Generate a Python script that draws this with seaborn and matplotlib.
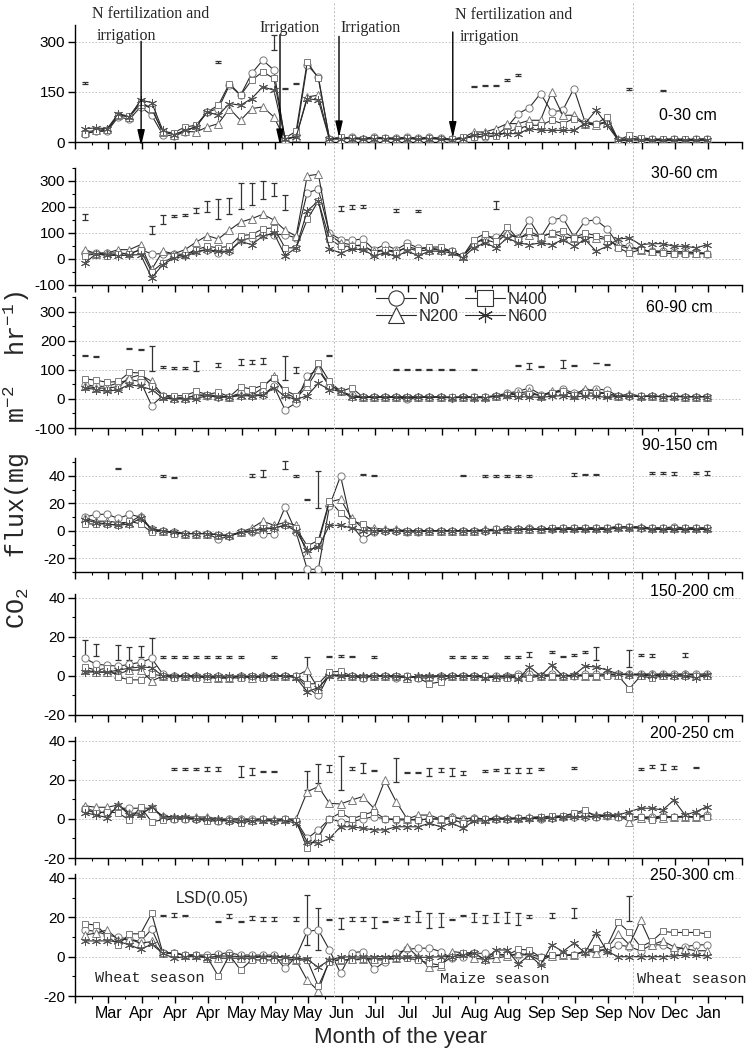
import numpy as np
import seaborn as sns
import matplotlib.pyplot as plt
from matplotlib.lines import Line2D
from matplotlib.ticker import FixedLocator, MultipleLocator

W, H = 753, 1055

# sample index (weekly-ish sampling dates, evenly spaced on the axis)
SAMPLES = np.arange(57)
MONTHS = ['Mar', 'Apr', 'Apr', 'Apr', 'May', 'May', 'May', 'Jun', 'Jul', 'Jul',
          'Jul', 'Aug', 'Aug', 'Sep', 'Sep', 'Sep', 'Nov', 'Dec', 'Jan']
TREATMENTS = ['N0', 'N200', 'N400', 'N600']
DEPTHS = ['0-30 cm', '30-60 cm', '60-90 cm', '90-150 cm',
          '150-200 cm', '200-250 cm', '250-300 cm']

# ---- 0-30 cm
P1_N0 = [25, 32, 32, 75, 68, 105, 80, 22, 18, 30, 48, 90, 100, 170, 140, 205, 245, 215, 5, 20,
         230, 195, 10, 12, 14, 10, 15, 12, 12, 14, 12, 14, 12, 8, 12, 15, 15, 20, 45, 85,
         103, 145, 90, 95, 160, 60, 55, 60, 5, 8, 10, 8, 7, 8, 6, 8, 8]
P1_N200 = [30, 35, 38, 80, 75, 115, 100, 30, 22, 32, 30, 45, 55, 100, 65, 100, 105, 75, 8, 15,
           135, 140, 8, 10, 12, 10, 12, 10, 10, 12, 10, 12, 10, 8, 12, 30, 30, 40, 55, 55,
           65, 65, 150, 80, 80, 55, 50, 60, 8, 10, 8, 6, 6, 7, 6, 7, 6]
P1_N400 = [25, 32, 35, 82, 78, 120, 100, 30, 28, 45, 50, 90, 110, 175, 140, 185, 210, 190, 12, 32,
           240, 190, 10, 14, 12, 10, 12, 12, 10, 12, 10, 12, 10, 8, 15, 15, 17, 17, 30, 40,
           50, 50, 65, 55, 70, 55, 55, 75, 6, 20, 12, 10, 8, 10, 8, 9, 10]
P1_N600 = [40, 42, 40, 85, 75, 125, 118, 35, 22, 35, 45, 90, 80, 115, 110, 130, 165, 155, 10, 15,
           130, 125, 8, 10, 10, 8, 10, 10, 8, 10, 8, 10, 8, 6, 10, 20, 25, 25, 25, 25,
           40, 35, 35, 35, 35, 55, 95, 50, 5, 5, 6, 5, 5, 5, 5, 5, 5]
P1_LSD_X = [0, 12, 17, 18, 19, 35, 36, 37, 38, 39, 49, 52]
P1_LSD_MID = [177, 238, 298, 160, 175, 167, 170, 170, 185, 200, 160, 155]
P1_LSD_HALF = [3, 3, 22, 1, 1, 2, 2, 2, 3, 2, 3, 1]

# ---- 30-60 cm
P2_N0 = [23, 23, 23, 23, 20, 36, 20, 20, 20, 17, 30, 36, 23, 30, 72, 81, 94, 94, 94, 81,
         255, 268, 100, 75, 72, 77, 36, 55, 36, 60, 43, 43, 36, 30, 10, 55, 85, 85, 94, 81,
         150, 81, 150, 159, 85, 146, 150, 116, 55, 49, 36, 30, 30, 28, 28, 25, 20]
P2_N200 = [36, 20, 23, 36, 36, 55, -40, 30, 20, 36, 65, 90, 77, 111, 142, 155, 172, 150, 111, 88,
           320, 326, 94, 62, 55, 49, 30, 36, 30, 43, 30, 36, 36, 30, 10, 62, 75, 62, 100, 81,
           94, 85, 100, 85, 81, 85, 81, 75, 49, 43, 36, 30, 30, 28, 26, 25, 22]
P2_N400 = [13, 20, 13, 20, 20, 36, -50, -15, 10, 17, 36, 49, 43, 49, 90, 94, 116, 120, 43, 43,
           152, 223, 77, 49, 49, 55, 23, 36, 23, 49, 36, 46, 46, 30, 10, 75, 98, 68, 124, 75,
           107, 85, 100, 107, 81, 100, 90, 81, 43, 23, 36, 26, 23, 20, 20, 20, 20]
P2_N600 = [-15, 20, 15, 13, 15, 17, -72, -22, 4, 10, 26, 36, 30, 30, 68, 55, 88, 100, 13, 43,
           185, 223, 39, 23, 39, 36, 13, 23, 10, 30, 13, 30, 30, 23, 5, 43, 62, 43, 81, 62,
           55, 62, 55, 75, 49, 75, 30, 49, 77, 81, 55, 59, 59, 49, 49, 43, 55]
P2_LSD_X = [0, 6, 7, 8, 9, 10, 11, 12, 13, 14, 15, 16, 17, 18, 23, 24, 25, 28, 30, 37]
P2_LSD_MID = [163, 111, 151, 165, 169, 187, 202, 191, 204, 243, 249, 266, 267, 217, 195, 199, 203, 185, 185, 207]
P2_LSD_HALF = [12, 16, 17, 3, 3, 11, 21, 39, 32, 49, 43, 35, 25, 30, 10, 8, 5, 6, 3, 16]

# ---- 60-90 cm
P3_N0 = [49, 43, 43, 55, 66, 60, -23, 11, 3, 3, 12, 10, 8, 7, 20, 14, 14, 43, -37, -14,
         80, 100, 43, 26, 12, 7, 7, 7, 6, -2, 6, 6, 6, 4, 6, 7, 6, 11, 20, 26,
         38, 15, 20, 34, 20, 26, 34, 30, 9, 9, 9, 9, 8, 9, 8, 8, 8]
P3_N200 = [43, 38, 36, 43, 72, 83, 60, 11, 3, 3, 12, 15, 10, 7, 14, 12, 38, 80, 20, 3,
           43, 103, 49, 26, 10, 7, 7, 7, 7, 7, 6, 6, 6, 5, 6, 7, 6, 9, 18, 20,
           26, 10, 26, 26, 15, 34, 26, 18, 9, 18, 9, 10, 8, 9, 8, 8, 8]
P3_N400 = [69, 64, 57, 60, 91, 89, 43, 11, 11, 11, 26, 15, 23, 7, 41, 34, 46, 72, 30, 11,
           55, 123, 60, 26, 38, 7, 7, 7, 7, 7, 7, 7, 7, 6, 7, 7, 7, 11, 15, 15,
           18, 11, 20, 26, 15, 20, 20, 18, 9, 9, 9, 9, 8, 9, 8, 8, 8]
P3_N600 = [38, 32, 26, 32, 49, 43, 32, 3, 0, 0, 0, 12, 5, 7, 11, 10, 12, 38, 9, -2,
           11, 53, 32, 26, 5, 5, 5, 5, 5, 5, 5, 5, 5, 4, 5, 4, 4, 9, 10, 7,
           7, 5, 9, 11, 5, 11, 9, 5, 9, 9, 8, 9, 7, 8, 7, 7, 7]
P3_LSD_X = [0, 1, 4, 5, 6, 7, 8, 9, 10, 12, 14, 15, 16, 18, 19, 22, 28, 29, 30, 31,
            32, 33, 35, 39, 40, 41, 43, 44, 46, 47]
P3_LSD_MID = [150, 146, 174, 169, 139, 109, 106, 106, 113, 117, 126, 126, 131, 106, 99, 149, 100, 100, 100, 100,
              100, 100, 100, 114, 114, 112, 121, 114, 123, 118]
P3_LSD_HALF = [2, 2, 1, 1, 44, 3, 3, 3, 18, 7, 11, 7, 10, 40, 10, 2, 1, 1, 1, 1,
               1, 1, 1, 1, 11, 1, 14, 1, 1, 1]

# ---- 90-150 cm
P4_N0 = [10, 12, 12, 9, 12, 10, 1, 0, -1, -2, -2, -2, -6, -4, -1, -1, -2, -2, 17, -1,
         -28, -28, 18, 40, 4, -6, -1, 0, 0, -1, -1, 0, 0, 0, 0, 0, 0, 1, 1, 1,
         2, 1, 1, 2, 2, 2, 2, 2, 3, 3, 2, 2, 2, 3, 2, 2, 2]
P4_N200 = [9, 7, 7, 6, 6, 11, 1, 0, -1, -2, -2, -2, -3, -3, -1, 2, 7, 4, 6, 4,
           -17, -9, 21, 23, 9, 2, 2, 1, 1, 0, 0, 0, 0, 0, 0, 0, 1, 1, 1, 1,
           1, 1, 2, 2, 2, 2, 2, 2, 3, 3, 3, 2, 2, 2, 2, 2, 2]
P4_N400 = [5, 5, 5, 4, 7, 5, -1, 0, -2, -2, -2, -2, -3, -4, -1, 0, 2, 2, 4, 2,
           -11, -7, 22, 13, 7, 5, 0, 0, 0, 0, 0, 0, 0, 0, 0, 0, 0, 1, 1, 1,
           1, 1, 2, 2, 2, 2, 2, 2, 3, 3, 2, 2, 2, 2, 2, 2, 2]
P4_N600 = [8, 6, 5, 4, 5, 9, 1, 0, -1, -2, -2, -2, -3, -4, -1, 0, 1, 2, 4, 0,
           -14, -12, 4, 4, 2, 0, 0, 0, 0, 0, 0, 0, 0, 0, 0, 0, 0, 0, 1, 1,
           1, 1, 1, 1, 1, 1, 1, 1, 2, 2, 2, 1, 1, 1, 1, 1, 1]
P4_LSD_X = [3, 7, 8, 15, 16, 18, 19, 20, 21, 25, 26, 34, 36, 37, 38, 39, 40, 44, 45, 46,
            51, 52, 53, 55, 56]
P4_LSD_MID = [45.6, 40, 39, 40, 41.5, 48, 40, 23, 30, 41, 40, 40, 40, 40, 40, 40, 40, 41, 41, 41,
              42, 42, 41.5, 42, 42]
P4_LSD_HALF = [0.4, 0.5, 0.5, 1, 2.5, 3, 0.8, 0.4, 13.5, 0.4, 0.4, 0.4, 0.5, 0.5, 0.5, 0.5, 0.5, 1, 0.5, 0.5,
               0.5, 0.5, 1.2, 0.5, 1.2]

# ---- 150-200 cm
P5_N0 = [9, 6, 5.5, 5, 6, 7, 9, 1, 0, 0, 0, -1, 0, -1, 0, -1, 0, 0, 0, 0,
         -6, -10, 1, 0, 0, -1, 0, 0, -1, 0, -1, -1, 0, 0, 0, 0, 0, 0, 0, 1,
         1, 0, 1, 0, 0, 1, 1, 1, 1, 1, 1, 1, 1, 1, 1, 1, 1]
P5_N200 = [3, 2, 2, 1, 3, 3, -2.6, 0, 0, 0, 0, -1, -1, -1, 0, -1, 0, 0, 0, 0,
           3, -6.5, 1, 0, 0, 0, 0, 0, 0, -1, 0, 0, 0, 0, 0, 0, 0, -0.5, 0, 0,
           0, 0, 0, 0, 0.5, 0, 0, 1, 0.5, 1, 0.5, 1, 0.5, 0.5, 1, 0.5, 0.5]
P5_N400 = [4.6, 3, 4, -0.5, -2, -2, 1, 0, -1, 0, -1, 0, -1, -1, -1, 0, -1, 0, 0, 0,
           -4, -4, 2, 2.4, 0, -1, 0, 0, 0, 0, -1, -4, -3, 0, 0, 0, 0, -1, -1, 0,
           -1, 0, 0, 0, 0, 0, 0, 0, 0, -6.5, 0, -1, 0, 0, 0, 0, 0]
P5_N600 = [2, 2, 2, 3, 4, 4.6, 4.3, 0, 0, 0, 0, 0, 0, 0, 0, 0, 0, 0, 0, -1,
           -8, -6, 0, 0, 0, 0, 0, 0, 0, -1, 0, 0, 0, 0, 0, 0, -1, -0.5, 0, -1.5,
           4.6, 0, 5.5, 0, 0.5, 5, 4.6, 3, 1, 0.5, 0.5, 0, 0.5, 0, 0, -1, 0.5]
P5_LSD_X = [0, 1, 3, 4, 5, 6, 7, 8, 9, 10, 11, 12, 13, 14, 17, 20, 22, 23, 24, 26,
            33, 34, 35, 36, 38, 39, 40, 42, 43, 44, 45, 46, 49, 50, 51, 54]
P5_LSD_MID = [13.8, 13.3, 12, 11.4, 12.6, 10.3, 9.8, 9.8, 9.8, 9.8, 9.8, 9.8, 9.8, 9.8, 9.8, 3, 10, 10.3, 10, 9.8,
              9.8, 9.8, 9.8, 9.8, 9.8, 9.8, 11, 12.4, 10, 10.7, 12.4, 11.4, 9, 10.7, 10.5, 10.7]
P5_LSD_HALF = [4.7, 3.1, 3.9, 3.3, 2.8, 9, 0.4, 0.4, 0.4, 0.4, 0.4, 0.4, 0.4, 0.4, 0.5, 6.9, 0.4, 0.6, 0.4, 0.4,
               0.4, 0.4, 0.4, 0.4, 0.4, 0.4, 1.5, 0.4, 0.4, 0.5, 0.4, 3.3, 4.3, 0.4, 0.8, 0.9]

# ---- 200-250 cm
P6_N0 = [5.5, 3.8, 3, 5.5, 5.5, 5.5, 5.5, 1, 0, 0, 0, 0, -1, 0, 0, 0, 0, -1, 0, -1,
         -10, -5.6, 0, -1.4, -1.4, 0, 1.2, 0, -0.5, -0.5, -0.5, 0, 0, 1, 0, 0.5, 0, 0, 0, 0.5,
         0.5, 0, 0.5, 1, 1, 1, 1, 1.5, 1, 1, 1, 1, 1.5, 1, 1.5, 1, 2]
P6_N200 = [6.7, 6, 6, 7.2, 3, 3, 5.5, 1.5, 1, 1, 1, 1, 0, 0, 0, -0.5, 0, 0, 0, 0,
           14, 16.6, 8, 7.7, 9.7, 11.5, 5.5, 20, 8.9, 0, 2, 2, 0, 1, 0, 0.5, 0, 0.5, 0.5, 0.5,
           1, 1, 1, 1.5, 2.5, 3.5, 2, 2, 2, -1.4, 0.5, 1, 0.5, 1, 1, 1, 2]
P6_N400 = [5, 2.9, 3.8, 3, -0.5, 6, -1.4, -0.5, 0, 0, 0, -1, -1, -1, -2.2, -1, 0, -1, 0, -1,
           -15, -9, 0, 3.2, 0, 2, 3.8, 0, 0, 0, -0.5, 0, 0, 0, -2.2, 0, 0, 0, 0, 0.5,
           0.5, 1, 1.5, 1.5, 3, 4.6, 1, 2, 1, 1, 1, -0.5, 1, 1, 1, 1, 1]
P6_N600 = [3.2, 2, 0.7, 7.2, 2, 2, 6.3, 1.2, 1, 1, 0, 0, 0, -1, -1, -1, -1, -1, -1, -2,
           -11.6, -12.5, -10, -4, -4, -4.8, -5.6, -5.6, -4, -4, -4, -2.2, -4, -2, -4.8, -1, -1, 0, 0, 0,
           0, 0.5, 0.5, 1, 1, 1, 1.5, 2, 2, 3.8, 5.5, 5.5, 4.6, 9.7, 2, 3.8, 6.3]
P6_LSD_X = [8, 9, 10, 11, 12, 14, 15, 16, 17, 20, 21, 22, 23, 24, 25, 26, 28, 29, 30, 31,
            32, 33, 34, 36, 37, 38, 39, 40, 41, 44, 50, 51, 52, 53, 55]
P6_LSD_MID = [25.6, 25.6, 25.6, 25.6, 25.6, 24.3, 24.3, 24.3, 24.3, 19.7, 23.4, 26, 23.6, 26, 26.2, 25, 25.1, 23.8, 23.8, 24,
              25, 24, 23.4, 24.6, 25, 24.8, 24.8, 24.8, 25.5, 26, 25.5, 26.8, 26.7, 26.3, 26.3]
P6_LSD_HALF = [0.4, 0.6, 0.4, 1, 0.8, 2.6, 1.7, 0.4, 0.4, 4.7, 5, 1.7, 8.7, 0.8, 2.7, 0.3, 6, 0.3, 0.3, 1.9,
               1, 2, 1, 0.4, 0.6, 1.3, 1.3, 1.3, 0.4, 0.6, 0.4, 0.6, 1.5, 0.6, 0.3]

# ---- 250-300 cm
P7_N0 = [13.6, 12.8, 11, 9.9, 8.9, 7.7, 14, 1.7, 1.7, 0.8, 0.8, 0.8, 1.4, 2, 0.8, 0.8, 0.8, 0.8, -6, 0,
         12.8, 13.6, 3.4, -8.5, 2, 2.6, -6.5, -2.5, 1.7, 3.7, 4.3, 4.3, 2.6, -0.8, 0, 1.7, 1.7, 0.8, 0.8, 0.8,
         1, 0, 0.3, 0.8, 0.8, 2.6, 3.4, 3.4, 6, 5, 3, 6, 6, 2.9, 5, 6, 6]
P7_N200 = [11, 12, 13.6, 8.5, 8.9, 6.8, 7.7, 1.7, 1.7, 0.8, 0.8, -0.8, -0.8, -0.8, -0.8, -0.8, 0, 0, -0.8, -1.7,
           -12, -17.4, -1.7, -1.7, -1.4, -1, -1, -1, -0.8, 5, -0.3, -5.4, -4.8, 2.6, 2, -0.8, -1.4, -0.8, 0.3, 1.7,
           0.8, -2, 0.5, 0.8, 0.8, 3, 2, 4.3, 11.6, 6, 18.4, 6, 8, 5, 4, 3, 3]
P7_N400 = [16.7, 16, 10.5, 6, 11.6, 11.6, 22, 2, 2, 0.8, 0.8, -0.3, -9.9, 0.8, -6.8, -1.7, -1.7, -1.7, -1.7, -1.7,
           -1.7, -15, -2.5, -1.7, -1.7, -1.4, -1.7, -1.7, -0.8, -0.8, -1.7, -3.4, -4.3, 0, 2, 2, -1.7, 1.4, 0.8, 3.7,
           3.4, -0.3, 0.8, 0.8, 0.8, 3, 4.3, 5.4, 17.4, 12.3, 5, 7.7, 12.8, 12.3, 12.3, 12.3, 11.6]
P7_N600 = [8, 8, 8, 7.7, 6, 3.7, 6.3, 1.7, -0.8, 0, 0, -0.5, 0.3, 0.3, 0, 0, 0, 0, 0, -0.8,
           -1.4, -5.4, -1.7, -0.3, 0, -0.3, 0, 0, 0, -0.3, -0.3, -0.3, 0, 0, 0.8, 2, -1.7, 3.4, 3.4, -3.7,
           0.8, -4.3, 6, 2.6, 6.8, 2, 12, 2.6, 0, 0, 0, 0, 0, 0.3, 0.8, 0.8, 0.3]
P7_LSD_X = [7, 8, 9, 12, 13, 14, 15, 16, 17, 19, 20, 21, 22, 23, 24, 25, 26, 27, 28, 29,
            30, 31, 32, 33, 34, 35, 36, 37, 38, 39, 40, 42, 44, 49]
P7_LSD_MID = [20.8, 21, 20.8, 17.9, 20.8, 17.9, 19.6, 19.2, 19.2, 19, 18.7, 14.1, 18.7, 16.8, 19.2, 19.2, 17.4, 17.9, 19, 19.2,
              20.4, 18.4, 18.7, 19, 20.8, 20, 19.2, 19.9, 20, 19.2, 20.4, 20.8, 22, 24.3]
P7_LSD_HALF = [0.3, 1, 0.3, 0.3, 1, 0.3, 1.2, 1.2, 1.2, 1.1, 12.8, 10.6, 0.3, 2.8, 0.9, 0.9, 2.8, 0.3, 0.6, 1.4,
               2.6, 3.8, 3.7, 0.3, 0.3, 2.3, 2, 2.5, 2.8, 3.2, 0.8, 1.3, 2.6, 6.4]


def fx(px):
    return px / W


def fy(py):
    return 1 - py / H


sns.set_theme(style='ticks')
plt.rcParams['font.family'] = ['Liberation Sans', 'DejaVu Sans']
plt.rcParams['mathtext.fontset'] = 'custom'
plt.rcParams['mathtext.rm'] = 'Liberation Mono'
plt.rcParams['mathtext.it'] = 'Liberation Mono'
plt.rcParams['axes.unicode_minus'] = False

fig = plt.figure(figsize=(W / 100, H / 100), dpi=100)

# (top px, bottom px, ylim, major ticks, minor step, label right px, label y px)
layout = [
    (25, 142, (0, 350), [0, 150, 300], None, 717, 115),
    (168, 285, (-100, 350), [-100, 0, 100, 200, 300], 50, 718, 174),
    (297, 428, (-100, 350), [-100, 0, 100, 200, 300], 50, 713, 308),
    (458, 572, (-30, 53), [-20, 0, 20, 40], 10, 718, 445),
    (594, 715, (-20, 42), [-20, 0, 20, 40], 10, 734, 592),
    (737, 858, (-20, 42), [-20, 0, 20, 40], 10, 734, 733),
    (874, 996, (-20, 42), [-20, 0, 20, 40], 10, 734, 876),
]
series = [
    (P1_N0, P1_N200, P1_N400, P1_N600, P1_LSD_X, P1_LSD_MID, P1_LSD_HALF),
    (P2_N0, P2_N200, P2_N400, P2_N600, P2_LSD_X, P2_LSD_MID, P2_LSD_HALF),
    (P3_N0, P3_N200, P3_N400, P3_N600, P3_LSD_X, P3_LSD_MID, P3_LSD_HALF),
    (P4_N0, P4_N200, P4_N400, P4_N600, P4_LSD_X, P4_LSD_MID, P4_LSD_HALF),
    (P5_N0, P5_N200, P5_N400, P5_N600, P5_LSD_X, P5_LSD_MID, P5_LSD_HALF),
    (P6_N0, P6_N200, P6_N400, P6_N600, P6_LSD_X, P6_LSD_MID, P6_LSD_HALF),
    (P7_N0, P7_N200, P7_N400, P7_N600, P7_LSD_X, P7_LSD_MID, P7_LSD_HALF),
]

markers = {'N0': 'o', 'N200': '^', 'N400': 's', 'N600': (6, 2, 0)}
msizes = {'N0': 5.2, 'N200': 5.2, 'N400': 4.8, 'N600': 6.5}
line_col = '#2a2a2a'
edge_col = '#7a7a7a'

x_left, x_right = -0.9, 59.13
major_x = [-0.9 + 3 * k for k in range(21)]

axes = []
for (top, bot, ylim, yt, ystep, lx, ly), data, depth in zip(layout, series, DEPTHS):
    ax = fig.add_axes([fx(75), fy(bot), fx(742) - fx(75), (bot - top) / H])
    ax.patch.set_visible(False)
    axes.append(ax)
    lsd_x, lsd_mid, lsd_half = data[4], data[5], data[6]
    ax.errorbar(lsd_x, lsd_mid, yerr=lsd_half, fmt='none', ecolor='#333333',
                elinewidth=0.9, capsize=2.2, capthick=0.9, zorder=2)
    for name, vals in zip(TREATMENTS, data[:4]):
        m = markers[name]
        sns.lineplot(x=SAMPLES, y=vals, ax=ax, color=line_col, lw=0.8,
                     marker=m, markersize=msizes[name], markerfacecolor='white',
                     markeredgecolor=edge_col if name != 'N600' else '#555555',
                     markeredgewidth=0.7, errorbar=None, zorder=3)
    ax.set_xlim(x_left, x_right)
    ax.set_ylim(*ylim)
    ax.yaxis.set_major_locator(FixedLocator(yt))
    if ystep:
        ax.yaxis.set_minor_locator(MultipleLocator(ystep))
    ax.xaxis.set_major_locator(FixedLocator(major_x))
    ax.xaxis.set_minor_locator(FixedLocator([v + 1.5 for v in major_x[:-1]]))
    ax.set_xlabel('')
    ax.set_ylabel('')
    ax.grid(False)
    for v in yt:
        if v != ylim[0]:
            ax.axhline(v, color='#bdbdbd', ls=(0, (2, 2)), lw=0.6, zorder=1)
    sns.despine(ax=ax)
    for s in ('left', 'bottom'):
        ax.spines[s].set_color('black')
        ax.spines[s].set_linewidth(1.0)
    ax.tick_params(which='major', direction='out', length=5, width=1, color='black',
                   labelsize=11, pad=2, labelcolor='black')
    ax.tick_params(which='minor', direction='out', length=2.5, width=0.8, color='black')
    ax.set_xticklabels([''] * len(major_x))
    fig.text(fx(lx), fy(ly), depth, ha='right', va='center', fontsize=11.5, color='black')

# month labels on the bottom panel
bottom_ax = axes[-1]
bottom_ax.set_xticklabels([''] + MONTHS + [''], fontsize=11.5)

# vertical season-boundary lines across all panels
for px in (334, 633):
    fig.add_artist(Line2D([fx(px), fx(px)], [fy(3), fy(997)], transform=fig.transFigure,
                          color='#bcbcbc', lw=0.7, ls=(0, (2, 2)), zorder=0.5))

# management arrows on the top panel
ax1 = axes[0]
for xi, y0, y1 in [(5.05, 301, -12), (17.55, 321, -10), (22.86, 316, 14), (33.1, 329, 12)]:
    ax1.annotate('', xy=(xi, y1), xytext=(xi, y0), annotation_clip=False,
                 arrowprops=dict(arrowstyle='-|>,head_length=0.95,head_width=0.22',
                                 mutation_scale=10, color='black', lw=1.0, shrinkA=0, shrinkB=0))
serif = ['Liberation Serif', 'DejaVu Serif']
fig.text(fx(92), fy(14), 'N fertilization and', family=serif, fontsize=11.5, va='center')
fig.text(fx(97), fy(36), 'irrigation', family=serif, fontsize=11.5, va='center')
fig.text(fx(259), fy(28), 'Irrigation', family=serif, fontsize=11.5, va='center')
fig.text(fx(340), fy(28), 'Irrigation', family=serif, fontsize=11.5, va='center')
fig.text(fx(455), fy(15), 'N fertilization and', family=serif, fontsize=11.5, va='center')
fig.text(fx(460), fy(37), 'irrigation', family=serif, fontsize=11.5, va='center')

# legend in the 60-90 cm panel
handles = [Line2D([0], [0], color=line_col, lw=0.8, marker=markers[n], markersize=11,
                  markerfacecolor='white', markeredgecolor='#333333', markeredgewidth=0.8,
                  label=n) for n in TREATMENTS]
axes[2].legend(handles=handles, ncol=2, loc='upper left', bbox_to_anchor=(fx(376), fy(292)),
               bbox_transform=fig.transFigure, frameon=False, fontsize=12,
               handlelength=2.4, handletextpad=0.15, columnspacing=0.4,
               labelspacing=0.12, borderpad=0, borderaxespad=0)

# season and LSD labels
mono = ['Liberation Mono', 'DejaVu Sans Mono']
fig.text(fx(95), fy(978), 'Wheat season', family=mono, fontsize=11, va='center')
fig.text(fx(440), fy(979), 'Maize season', family=mono, fontsize=11, va='center')
fig.text(fx(637), fy(979), 'Wheat season', family=mono, fontsize=11, va='center')
fig.text(fx(212), fy(899), 'LSD(0.05)', fontsize=11.5, ha='center', va='center')

fig.text(fx(401), fy(1038), 'Month of the year', fontsize=16, ha='center', va='center')
fig.text(fx(17), fy(460), r'CO$_2$  flux(mg  m$^{-2}$  hr$^{-1}$)', family=mono,
         fontsize=18, rotation=90, ha='center', va='center')

fig.savefig('out.png', dpi=100)
